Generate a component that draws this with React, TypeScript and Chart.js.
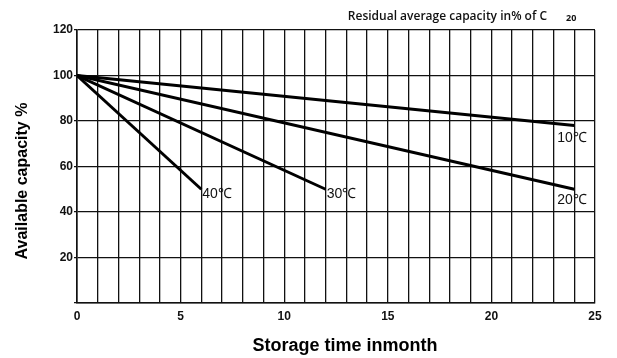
import React, { useEffect, useRef } from "react";
import { Chart, registerables } from "chart.js";

Chart.register(...registerables);

const months10 = [0, 24];
const cap10 = [100, 78];
const months20 = [0, 24];
const cap20 = [100, 50];
const months30 = [0, 12];
const cap30 = [100, 50];
const months40 = [0, 6];
const cap40 = [100, 50];

const seriesLabels = ["10℃", "20℃", "30℃", "40℃"];
const xTitle = "Storage time inmonth";
const yTitle = "Available capacity %";
const topTitle = "Residual average capacity in% of C";
const topSub = "20";

const toPts = (xs: number[], ys: number[]) => xs.map((x, i) => ({ x, y: ys[i] }));

const labelOffsets = [
  { dx: -17, dy: 13 },
  { dx: -17, dy: 11 },
  { dx: 1, dy: 5 },
  { dx: 1, dy: 5 },
];

const labelPlugin = {
  id: "lineLabels",
  afterDatasetsDraw(chart: any) {
    const ctx = chart.ctx;
    ctx.save();
    ctx.fillStyle = "#111";
    ctx.font = "14px 'Liberation Sans', Arial, sans-serif";
    ctx.textBaseline = "middle";
    chart.data.datasets.forEach((ds: any, i: number) => {
      const meta = chart.getDatasetMeta(i);
      const last = meta.data[meta.data.length - 1];
      ctx.textAlign = "left";
      ctx.fillText(seriesLabels[i], last.x + labelOffsets[i].dx, last.y + labelOffsets[i].dy);
    });
    // top title
    ctx.textBaseline = "middle";
    ctx.textAlign = "right";
    ctx.font = "600 12px 'Open Sans', 'DejaVu Sans Condensed', sans-serif";
    ctx.fillText(topTitle, 547, 17);
    ctx.font = "bold 9px 'Open Sans', sans-serif";
    ctx.textAlign = "left";
    ctx.fillText(topSub, 566, 18);
    // x title
    ctx.fillStyle = "#000";
    ctx.textAlign = "center";
    ctx.font = "bold 18px 'Liberation Sans', Arial, sans-serif";
    ctx.fillText(xTitle, 345, 346);
    // y title
    ctx.translate(23, 181);
    ctx.rotate(-Math.PI / 2);
    ctx.textAlign = "center";
    ctx.font = "bold 16px 'Liberation Sans', Arial, sans-serif";
    ctx.fillText(yTitle, 0, 0);
    ctx.restore();
  },
};

export default function App() {
  const ref = useRef<HTMLCanvasElement>(null);
  useEffect(() => {
    const line = (d: any) => ({
      data: d,
      borderColor: "#000",
      borderWidth: 3,
      pointRadius: 0,
      fill: false,
      tension: 0,
    });
    const chart = new Chart(ref.current!, {
      type: "line",
      data: {
        datasets: [
          line(toPts(months10, cap10)),
          line(toPts(months20, cap20)),
          line(toPts(months30, cap30)),
          line(toPts(months40, cap40)),
        ],
      },
      options: {
        animation: false,
        responsive: false,
        maintainAspectRatio: false,
        layout: { padding: { top: 30, right: 22, left: 0, bottom: 0 } },
        plugins: { legend: { display: false }, tooltip: { enabled: false } },
        scales: {
          x: {
            type: "linear",
            min: 0,
            max: 25,
            afterFit: (s: any) => {
              s.height = 55;
            },
            ticks: {
              stepSize: 1,
              autoSkip: false,
              maxRotation: 0,
              color: "#111",
              padding: 6,
              font: { family: "'Liberation Sans', Arial", size: 12, weight: "bold" },
              callback: (v: any) => (Number(v) % 5 === 0 ? String(v) : ""),
            },
            grid: { color: "#111", lineWidth: 1.3, drawTicks: false },
            border: { color: "#111", width: 1.6 },
          },
          y: {
            min: 0,
            max: 120,
            afterFit: (s: any) => {
              s.width = 77;
            },
            ticks: {
              stepSize: 20,
              color: "#111",
              padding: 1,
              font: { family: "'Liberation Sans', Arial", size: 12, weight: "bold" },
              callback: (v: any) => (Number(v) === 0 ? "" : String(v)),
            },
            grid: { color: "#111", lineWidth: 1.3, drawTicks: true, tickLength: 3 },
            border: { color: "#111", width: 1.6 },
          },
        },
      },
      plugins: [labelPlugin],
    });
    return () => chart.destroy();
  }, []);
  return (
    <div style={{ position: "fixed", left: 0, top: 0, width: 617, height: 358, background: "#fff" }}>
      <canvas ref={ref} width={617} height={358} style={{ width: 617, height: 358 }} />
    </div>
  );
}
